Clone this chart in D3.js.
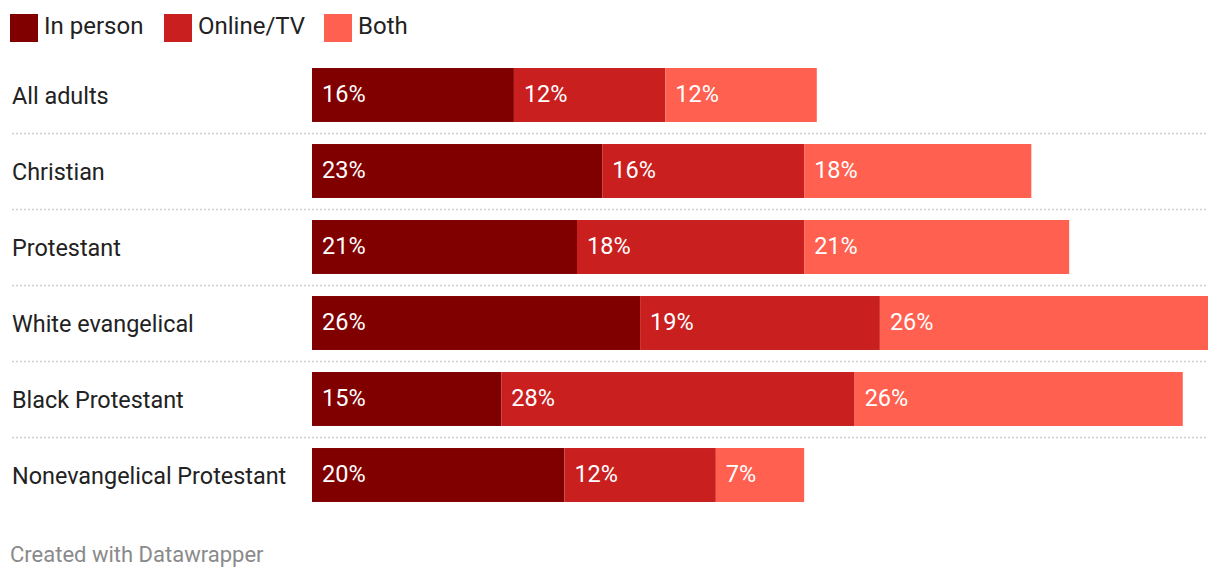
<!DOCTYPE html>
<html>
<head>
<meta charset="utf-8">
<script src="https://cdn.jsdelivr.net/npm/d3@7"></script>
<style>
  body { margin: 0; background: #fff; font-family: Roboto, sans-serif; }
  .sep { stroke: #cfcfcf; stroke-width: 1.4; stroke-dasharray: 2 2; }
</style>
</head>
<body>
<div id="chart"></div>
<script>
const categories = ['All adults', 'Christian', 'Protestant', 'White evangelical', 'Black Protestant', 'Nonevangelical Protestant'];
const series = ['In person', 'Online/TV', 'Both'];
const inPerson = [16, 23, 21, 26, 15, 20];
const onlineTV = [12, 16, 18, 19, 28, 12];
const both = [12, 18, 21, 26, 26, 7];
const colors = ['#800000', '#c91f1f', '#ff604f'];

const width = 1220;
const height = 580;

const svg = d3.select('#chart').append('svg')
  .attr('width', width)
  .attr('height', height);

const data = categories.map((c, i) => ({
  category: c,
  'In person': inPerson[i],
  'Online/TV': onlineTV[i],
  'Both': both[i]
}));

const stacked = d3.stack().keys(series)(data);

const xScale = d3.scaleLinear()
  .domain([0, 71])
  .range([312, 1208]);

const yScale = d3.scaleBand()
  .domain(categories)
  .range([57, 513])
  .paddingInner(0.29)
  .paddingOuter(0.145);

const colorScale = d3.scaleOrdinal().domain(series).range(colors);

// legend
const legendX = [10, 164, 324];
const legend = svg.append('g');
series.forEach((s, i) => {
  legend.append('rect')
    .attr('x', legendX[i])
    .attr('y', 14)
    .attr('width', 28)
    .attr('height', 28)
    .attr('fill', colorScale(s));
  legend.append('text')
    .attr('x', legendX[i] + 34)
    .attr('y', 34)
    .attr('font-size', 24)
    .attr('fill', '#222')
    .text(s);
});

// separators
const seps = categories.slice(0, -1);
svg.append('g').selectAll('line')
  .data(seps)
  .join('line')
  .attr('class', 'sep')
  .attr('x1', 12)
  .attr('x2', 1208)
  .attr('y1', d => yScale(d) + yScale.bandwidth() + yScale.step() * 0.29 / 2 + 0.5)
  .attr('y2', d => yScale(d) + yScale.bandwidth() + yScale.step() * 0.29 / 2 + 0.5);

// category labels
svg.append('g').selectAll('text')
  .data(categories)
  .join('text')
  .attr('x', 12)
  .attr('y', d => yScale(d) + yScale.bandwidth() / 2)
  .attr('dy', '0.4em')
  .attr('font-size', 23.4)
  .attr('fill', '#222')
  .text(d => d);

// bars
const layers = svg.append('g').selectAll('g')
  .data(stacked)
  .join('g')
  .attr('fill', d => colorScale(d.key));

layers.selectAll('rect')
  .data(d => d)
  .join('rect')
  .attr('x', d => xScale(d[0]))
  .attr('y', d => yScale(d.data.category))
  .attr('width', d => xScale(d[1]) - xScale(d[0]))
  .attr('height', yScale.bandwidth());

layers.selectAll('text')
  .data(d => d)
  .join('text')
  .attr('x', d => xScale(d[0]) + 10)
  .attr('y', d => yScale(d.data.category) + yScale.bandwidth() / 2)
  .attr('dy', '0.3em')
  .attr('font-size', 23.5)
  .attr('fill', '#fff')
  .text(d => (d[1] - d[0]) + '%');

// footer
svg.append('text')
  .attr('x', 10)
  .attr('y', 562)
  .attr('font-size', 22)
  .attr('fill', '#8a8a8a')
  .text('Created with Datawrapper');
</script>
</body>
</html>
